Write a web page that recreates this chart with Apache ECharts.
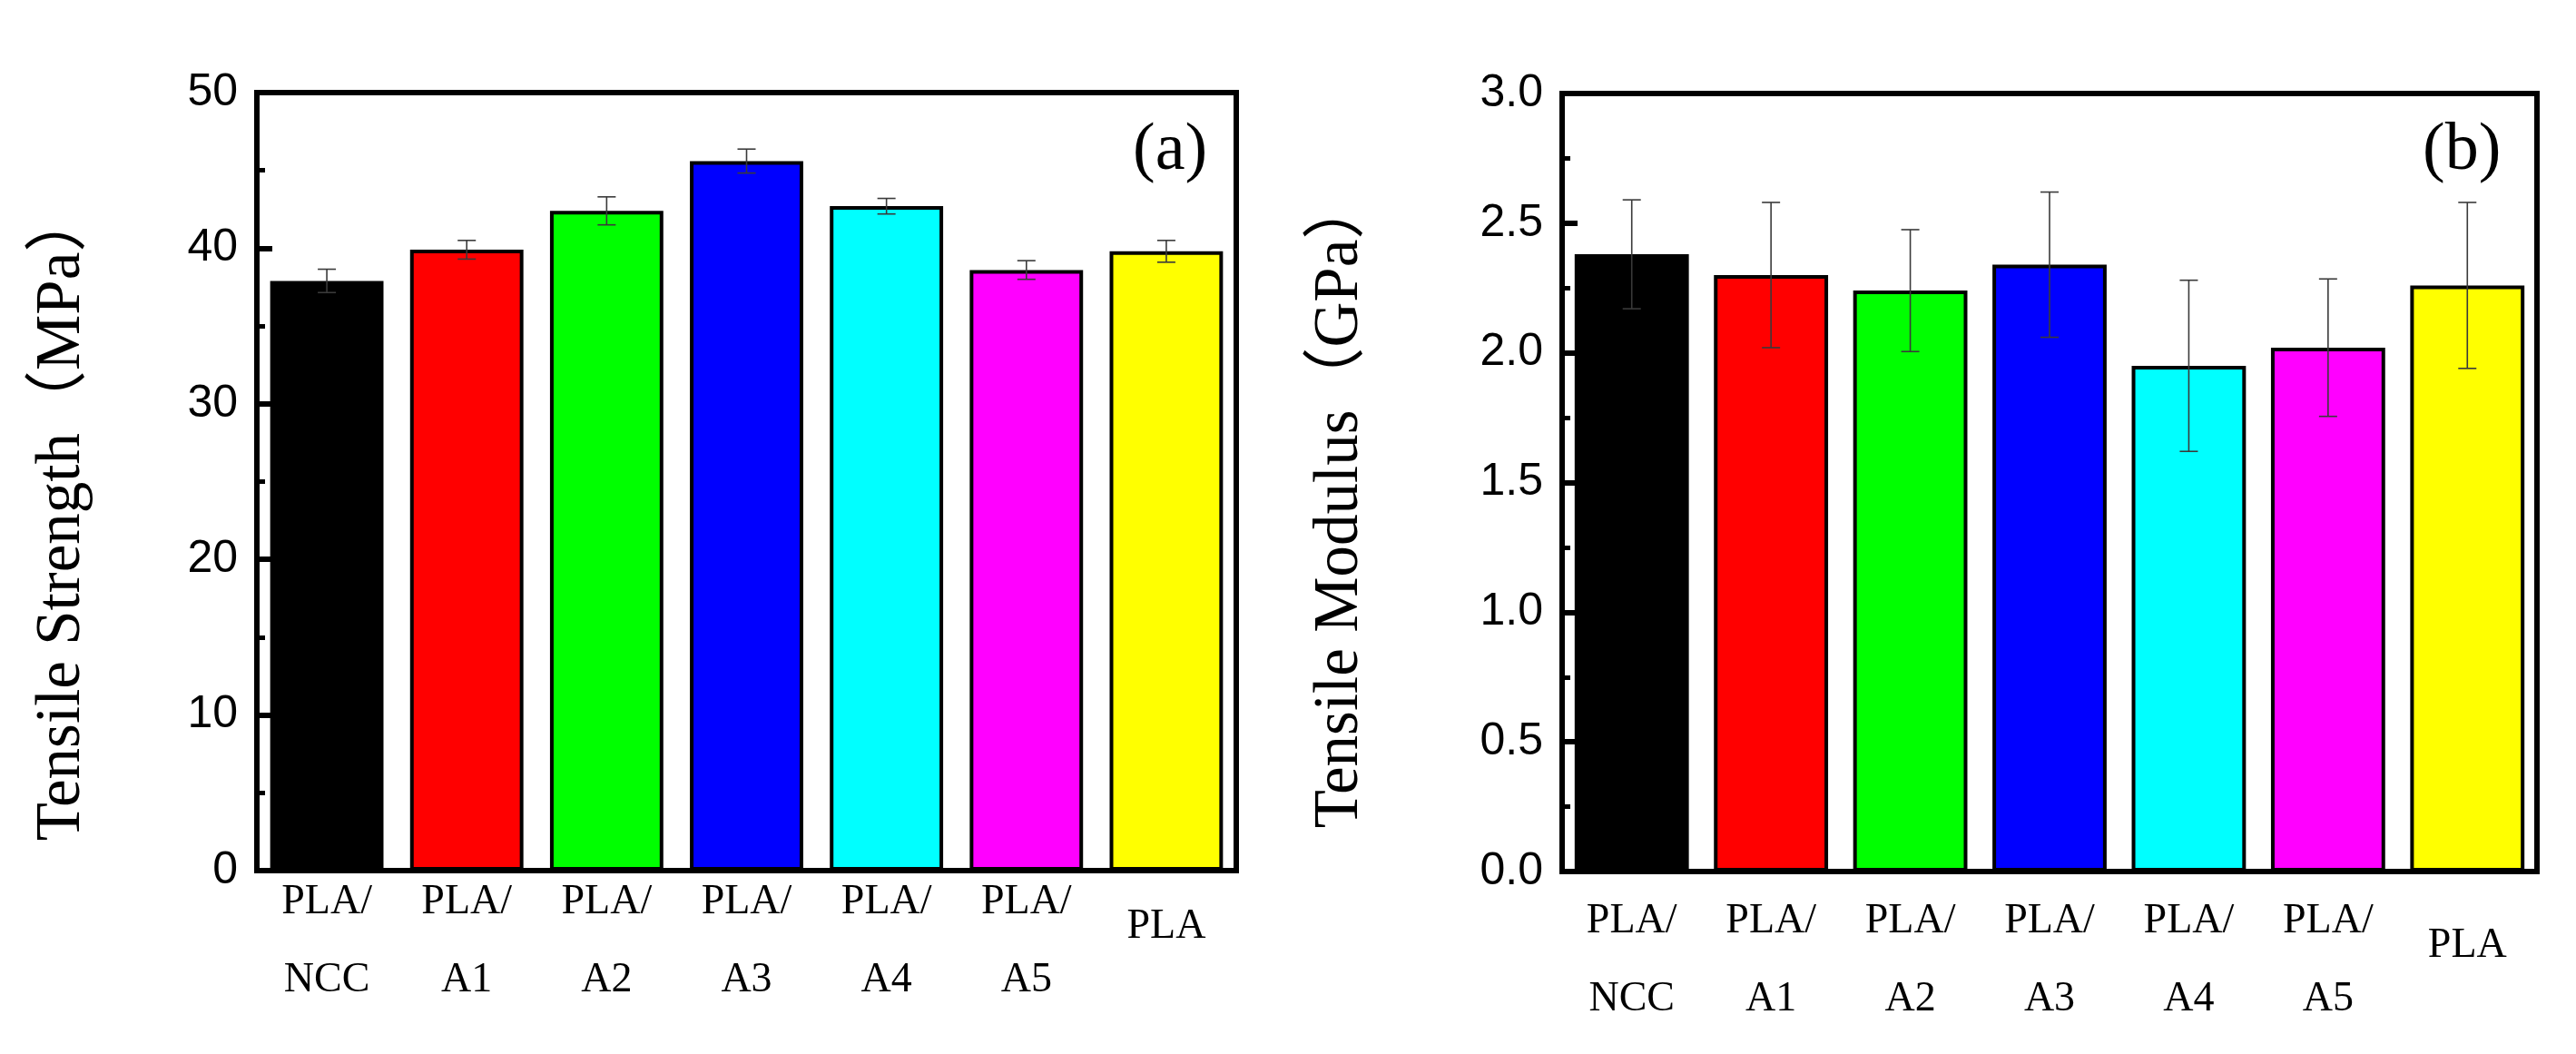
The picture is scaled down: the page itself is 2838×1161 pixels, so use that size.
<!DOCTYPE html>
<html>
<head>
<meta charset="utf-8">
<script src="https://cdn.jsdelivr.net/npm/echarts@6/dist/echarts.min.js"></script>
<style>html,body{margin:0;background:#fff}#chart{width:2838px;height:1161px}</style>
</head>
<body>
<div id="chart"></div>
<script>
var categories=['PLA/\nNCC','PLA/\nA1','PLA/\nA2','PLA/\nA3','PLA/\nA4','PLA/\nA5','PLA']
var barColors=['#000000','#ff0000','#00ff00','#0000ff','#00ffff','#ff00ff','#ffff00']
var strength=[37.9,39.9,42.4,45.6,42.7,38.6,39.8]
var strengthErr=[0.75,0.6,0.9,0.77,0.5,0.6,0.7]
var modulus=[2.38,2.30,2.24,2.34,1.95,2.02,2.26]
var modulusErr=[0.21,0.28,0.235,0.28,0.33,0.265,0.32]

var serif='"Liberation Serif","Times New Roman","Noto Sans CJK SC",serif'
var sans='"Liberation Sans",Arial,sans-serif'

function barData(vals){
	var out=[]
	for(var i=0;i<vals.length;i++){
		out.push({value:vals[i],itemStyle:{color:barColors[i]}})
	}
	return out
}
function errData(vals,errs){
	var out=[]
	for(var i=0;i<vals.length;i++){
		out.push([i,vals[i]-errs[i],vals[i]+errs[i]])
	}
	return out
}
// error bar: vertical line with caps
function renderErr(params,api){
	var lo=api.coord([api.value(0),api.value(1)])
	var hi=api.coord([api.value(0),api.value(2)])
	var w=10
	var st={stroke:'#3a3a3a',lineWidth:1.6}
	return {type:'group',children:[
		{type:'line',shape:{x1:hi[0],y1:hi[1],x2:lo[0],y2:lo[1]},style:st},
		{type:'line',shape:{x1:hi[0]-w,y1:hi[1],x2:hi[0]+w,y2:hi[1]},style:st},
		{type:'line',shape:{x1:lo[0]-w,y1:lo[1],x2:lo[0]+w,y2:lo[1]},style:st}
	]}
}
function xAxisOf(idx,margin){
	return {
		type:'category',gridIndex:idx,data:categories,
		axisLine:{lineStyle:{color:'#000',width:6}},
		axisTick:{show:false},
		axisLabel:{
			color:'#000',fontFamily:serif,fontSize:46,lineHeight:86,margin:margin,interval:0,
			formatter:function(v){return v.indexOf('\n')<0?'{s|'+v+'}':v},
			rich:{s:{fontFamily:serif,fontSize:46,lineHeight:140,color:'#000'}}
		}
	}
}
function yAxisOf(idx,max,step,name,gap,shift,fmt){
	return {
		type:'value',gridIndex:idx,min:0,max:max,interval:step,
		name:name,nameLocation:'middle',nameGap:gap,
		nameTextStyle:{fontFamily:serif,fontSize:69,color:'#000',padding:[0,shift,0,0]},
		axisLine:{show:true,lineStyle:{color:'#000',width:6}},
		axisTick:{show:true,inside:true,length:17,lineStyle:{color:'#000',width:6}},
		minorTick:{show:true,splitNumber:2,length:9,lineStyle:{color:'#000',width:5}},
		splitLine:{show:false},
		axisLabel:{color:'#000',fontFamily:sans,fontSize:50,margin:21,formatter:fmt}
	}
}

var mychart=echarts.init(document.getElementById('chart'))
var option={
	animation:false,
	backgroundColor:'#fff',
	grid:[
		{left:283,right:1476,top:102,bottom:202,show:true,borderColor:'#000',borderWidth:6},
		{left:1721,right:43,top:103,bottom:201,show:true,borderColor:'#000',borderWidth:6}
	],
	xAxis:[xAxisOf(0,-8),xAxisOf(1,12)],
	yAxis:[
		yAxisOf(0,50,10,'Tensile Strength（MPa）',180,74,function(v){return v}),
		yAxisOf(1,3,0.5,'Tensile Modulus（GPa）',210,44,function(v){return v.toFixed(1)})
	],
	graphic:[
		{type:'text',left:1248,top:130,style:{text:'(a)',fontFamily:serif,fontSize:74,fill:'#000'}},
		{type:'text',left:2669,top:130,style:{text:'(b)',fontFamily:serif,fontSize:74,fill:'#000'}}
	],
	series:[
		{
			type:'bar',xAxisIndex:0,yAxisIndex:0,barCategoryGap:'19%',
			itemStyle:{borderColor:'#000',borderWidth:4},
			data:barData(strength)
		},
		{
			type:'custom',xAxisIndex:0,yAxisIndex:0,z:5,
			renderItem:renderErr,data:errData(strength,strengthErr)
		},
		{
			type:'bar',xAxisIndex:1,yAxisIndex:1,barCategoryGap:'18%',
			itemStyle:{borderColor:'#000',borderWidth:4},
			data:barData(modulus)
		},
		{
			type:'custom',xAxisIndex:1,yAxisIndex:1,z:5,
			renderItem:renderErr,data:errData(modulus,modulusErr)
		}
	]
}
mychart.setOption(option)
</script>
</body>
</html>
